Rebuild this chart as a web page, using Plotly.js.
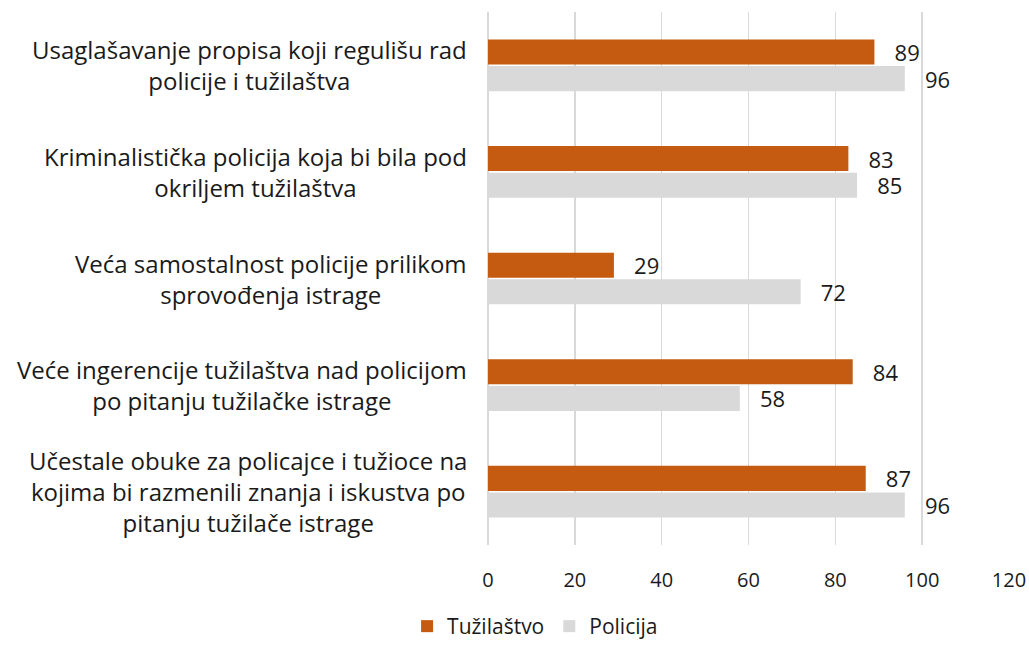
<!DOCTYPE html>
<html><head><meta charset="utf-8">
<script src="https://cdn.plot.ly/plotly-3.0.1.min.js"></script>
<style>html,body{margin:0;padding:0;background:#fff;}</style>
</head><body>
<div id="chart" style="width:1029px;height:647px;"></div>
<script>
const categories = [
  "Usaglašavanje propisa koji regulišu rad<br>policije i tužilaštva",
  "Kriminalistička policija koja bi bila pod<br>okriljem tužilaštva",
  "Veća samostalnost policije prilikom<br>sprovođenja istrage",
  "Veće ingerencije tužilaštva nad policijom<br>po pitanju tužilačke istrage",
  "Učestale obuke za policajce i tužioce na<br>kojima bi razmenili znanja i iskustva po<br>pitanju tužilače istrage"
];
const tuzilastvo = [89, 83, 29, 84, 87];
const policija = [96, 85, 72, 58, 96];
const xTicks = [0, 20, 40, 60, 80, 100, 120];

const FONT = "'Open Sans', Lato, sans-serif";
const TXT = '#1a1a1a';
const traces = [
  {type:'bar', orientation:'h', name:'Tužilaštvo', y:categories, x:tuzilastvo,
   marker:{color:'#C55A11'}, text:tuzilastvo.map(String), texttemplate:'\u00A0\u00A0\u00A0%{x}', textposition:'outside',
   constraintext:'none', textfont:{size:22, color:TXT, family:FONT}, cliponaxis:false},
  {type:'bar', orientation:'h', name:'Policija', y:categories, x:policija,
   marker:{color:'#D9D9D9'}, text:policija.map(String), texttemplate:'\u00A0\u00A0\u00A0%{x}', textposition:'outside',
   constraintext:'none', textfont:{size:22, color:TXT, family:FONT}, cliponaxis:false}
];
const annotations = categories.map(c => ({
  xref:'paper', yref:'y', x:0, y:c, xanchor:'right', yanchor:'middle', xshift:-19,
  text:c, showarrow:false, align:'center',
  font:{size:24, family:FONT, color:TXT}
}));
const layout = {
  width:1029, height:647,
  margin:{l:488, r:20, t:12, b:102},
  paper_bgcolor:'#fff', plot_bgcolor:'#fff',
  font:{family:FONT, color:TXT, size:19},
  barmode:'group', bargap:0.5, bargroupgap:0.06,
  xaxis:{range:[0,120], tickvals:xTicks, showgrid:true, gridcolor:'#D9D9D9', gridwidth:1.5,
         zeroline:true, zerolinecolor:'#D9D9D9', zerolinewidth:1.5, showline:false,
         ticks:'', ticklabelstandoff:21, tickfont:{size:20, family:FONT, color:TXT}},
  yaxis:{autorange:'reversed', showgrid:false, ticks:'', showticklabels:false},
  annotations:annotations,
  showlegend:true,
  legend:{orientation:'h', xref:'container', yref:'container', x:0.52, xanchor:'center', y:0.0, yanchor:'bottom',
          font:{size:21, family:FONT, color:TXT}, itemwidth:30, traceorder:'normal'}
};
Plotly.newPlot('chart', traces, layout, {displayModeBar:false, staticPlot:true});
</script>
</body></html>
